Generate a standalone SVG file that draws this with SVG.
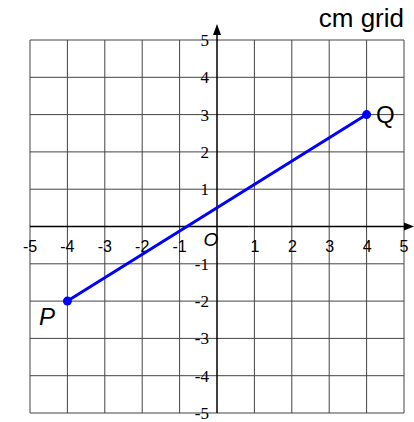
<svg xmlns="http://www.w3.org/2000/svg" width="414" height="422" viewBox="0 0 414 422">
<style>
.grid line{stroke:#444;stroke-width:1}
.axis{stroke:#000;stroke-width:1.5}
.xl{font-family:"Liberation Sans",Arial,sans-serif;font-size:16px;text-anchor:middle;fill:#000}
.yl{font-family:"Liberation Serif","Times New Roman",serif;font-size:17px;text-anchor:end;fill:#000}
.pt{font-family:"Liberation Sans",Arial,sans-serif;font-size:24px;fill:#000}
</style>
<rect width="414" height="422" fill="#fff"/>
<g class="grid">
<line x1="30" y1="40" x2="30" y2="413"/><line x1="67.4" y1="40" x2="67.4" y2="413"/><line x1="104.8" y1="40" x2="104.8" y2="413"/><line x1="142.2" y1="40" x2="142.2" y2="413"/><line x1="179.6" y1="40" x2="179.6" y2="413"/><line x1="254.4" y1="40" x2="254.4" y2="413"/><line x1="291.8" y1="40" x2="291.8" y2="413"/><line x1="329.2" y1="40" x2="329.2" y2="413"/><line x1="366.6" y1="40" x2="366.6" y2="413"/><line x1="404" y1="40" x2="404" y2="413"/>
<line x1="30" y1="40" x2="404" y2="40"/><line x1="30" y1="77.3" x2="404" y2="77.3"/><line x1="30" y1="114.6" x2="404" y2="114.6"/><line x1="30" y1="151.9" x2="404" y2="151.9"/><line x1="30" y1="189.2" x2="404" y2="189.2"/><line x1="30" y1="263.8" x2="404" y2="263.8"/><line x1="30" y1="301.1" x2="404" y2="301.1"/><line x1="30" y1="338.4" x2="404" y2="338.4"/><line x1="30" y1="375.7" x2="404" y2="375.7"/><line x1="30" y1="413" x2="404" y2="413"/>
</g>
<g id="axes">
<line class="axis" x1="217" y1="32" x2="217" y2="413"/>
<line class="axis" x1="30" y1="226.5" x2="406" y2="226.5"/>
<polygon points="217,24 213,35 221,35" fill="#000"/>
<polygon points="414,226.5 404,222.5 404,230.5" fill="#000"/>
</g>
<g id="xlabels">
<text class="xl" x="30" y="252">-5</text><text class="xl" x="67.4" y="252">-4</text><text class="xl" x="104.8" y="252">-3</text><text class="xl" x="142.2" y="252">-2</text><text class="xl" x="179.6" y="252">-1</text><text class="xl" x="255" y="252">1</text><text class="xl" x="292.4" y="252">2</text><text class="xl" x="329.8" y="252">3</text><text class="xl" x="367.2" y="252">4</text><text class="xl" x="404" y="252">5</text>
<text x="211" y="246" font-family="Liberation Sans,Arial,sans-serif" font-size="19" font-style="italic" text-anchor="middle">O</text>
</g>
<g id="ylabels">
<text class="yl" x="209" y="46">5</text><text class="yl" x="209" y="83.3">4</text><text class="yl" x="209" y="120.6">3</text><text class="yl" x="209" y="157.9">2</text><text class="yl" x="209" y="195.2">1</text><text class="yl" x="209" y="269.8">-1</text><text class="yl" x="209" y="307.1">-2</text><text class="yl" x="209" y="344.4">-3</text><text class="yl" x="209" y="381.7">-4</text><text class="yl" x="209" y="419">-5</text>
</g>
<g id="connectors">
<line x1="67.4" y1="301.1" x2="366.6" y2="114.6" stroke="#0000ff" stroke-width="3"/>
</g>
<g id="P">
<circle cx="67.4" cy="301.1" r="4.5" fill="#0000ff"/>
<text class="pt" x="39" y="325" font-style="italic">P</text>
</g>
<g id="Q">
<circle cx="366.6" cy="114.6" r="4.5" fill="#0000ff"/>
<text class="pt" x="376" y="123">Q</text>
</g>
<text x="404" y="27" font-family="Liberation Sans,Arial,sans-serif" font-size="26" text-anchor="end">cm grid</text>
</svg>
